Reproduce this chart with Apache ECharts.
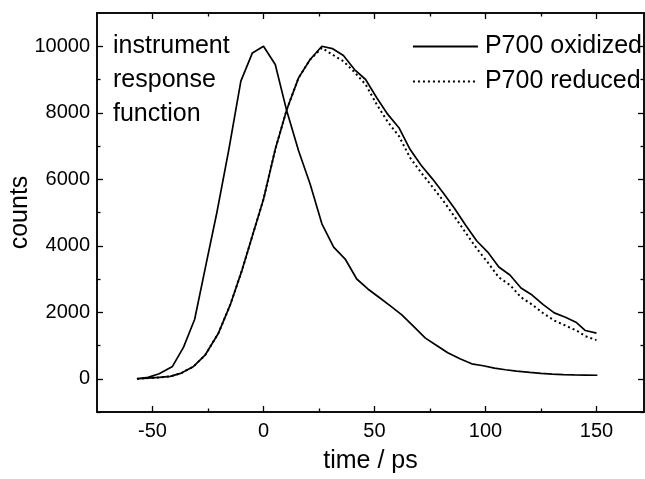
<!DOCTYPE html>
<html>
<head>
<meta charset="utf-8">
<script src="https://cdn.jsdelivr.net/npm/echarts@6/dist/echarts.min.js"></script>
<style>html,body{margin:0;padding:0;background:#fff}#c{width:645px;height:479px}</style>
</head>
<body>
<div id="c"></div>
<script>
// ---- data ----
var irfX = [-57, -52, -47, -41, -36, -31, -26, -21, -15.6, -10.2, -5, 0, 5.3, 10.5, 15.8, 21, 26.3, 31.6, 36.8, 42, 47, 52, 57, 62.3, 67.5, 72.8, 78, 83, 88.5, 93.8, 99, 104, 109, 114, 120, 125, 130, 135, 140, 145, 150.4];
var irfY = [0, 40, 150, 370, 950, 1790, 3400, 5000, 6900, 8950, 9800, 10000, 9450, 8050, 6860, 5860, 4660, 3960, 3600, 3000, 2700, 2450, 2200, 1920, 1580, 1230, 1000, 780, 600, 450, 390, 320, 270, 230, 190, 160, 140, 125, 115, 110, 105];
var p700X = [-57, -52, -47, -42, -37, -31.5, -26.2, -20.3, -15, -9.7, -5, 0, 5.3, 10.5, 15.8, 21, 26.3, 31, 36, 41, 46, 51, 56, 61, 66, 71, 76, 81, 86, 91, 96, 101, 106, 111, 116, 121, 126, 131, 136, 141, 145, 150];
var oxidizedY = [0, 20, 40, 70, 170, 370, 720, 1370, 2220, 3260, 4300, 5400, 6900, 8100, 9050, 9600, 10000, 9930, 9720, 9300, 9000, 8450, 7950, 7550, 6900, 6420, 6020, 5585, 5125, 4625, 4150, 3810, 3360, 3120, 2730, 2517, 2230, 1980, 1850, 1690, 1450, 1370];
var reducedY = [0, 20, 40, 70, 170, 370, 720, 1370, 2220, 3260, 4300, 5400, 6900, 8100, 9050, 9600, 9950, 9750, 9550, 9220, 8850, 8250, 7720, 7300, 6650, 6200, 5780, 5350, 4880, 4400, 3920, 3500, 3050, 2820, 2450, 2230, 1970, 1750, 1600, 1450, 1280, 1160];
var xMajorTicks = [-50, 0, 50, 100, 150];
var xMinorTicks = [-25, 25, 75, 125];
var yMajorTicks = [0, 2000, 4000, 6000, 8000, 10000];
var yMinorTicks = [-1000, 1000, 3000, 5000, 7000, 9000];
var seriesNames = ['P700 oxidized', 'P700 reduced'];
var annotationLines = ['instrument', 'response', 'function'];

function pairs(xs, ys) { return xs.map(function (x, i) { return [x, ys[i]]; }); }

var FONT = '"Liberation Sans", Arial, sans-serif';
var X_MIN = -75, X_MAX = 171.4, Y_MIN = -1000, Y_MAX = 11000;
function plain(v) { return String(v); }

function xAx(pos, ticks, len, showLabels, extra) {
  var a = {
    type: 'value', position: pos, min: X_MIN, max: X_MAX,
    axisLine: { show: true, onZero: false, lineStyle: { color: '#000', width: 1.5 } },
    axisTick: { show: true, inside: true, length: len, customValues: ticks, lineStyle: { color: '#000', width: 1.3 } },
    axisLabel: { show: showLabels, customValues: ticks, formatter: plain, color: '#000', fontSize: 20, fontFamily: FONT, margin: 9 },
    splitLine: { show: false }
  };
  for (var k in (extra || {})) a[k] = extra[k];
  return a;
}
function yAx(pos, ticks, len, showLabels, extra) {
  var a = {
    type: 'value', position: pos, min: Y_MIN, max: Y_MAX,
    axisLine: { show: true, onZero: false, lineStyle: { color: '#000', width: 1.5 } },
    axisTick: { show: true, inside: true, length: len, customValues: ticks, lineStyle: { color: '#000', width: 1.3 } },
    axisLabel: { show: showLabels, customValues: ticks, formatter: plain, color: '#000', fontSize: 20, fontFamily: FONT, margin: 7 },
    splitLine: { show: false }
  };
  for (var k in (extra || {})) a[k] = extra[k];
  return a;
}

var chart = echarts.init(document.getElementById('c'), null, { renderer: 'canvas' });
chart.setOption({
  animation: false,
  backgroundColor: '#fff',
  grid: { left: 97, right: 1, top: 13, bottom: 67, containLabel: false, outerBoundsMode: 'none' },
  xAxis: [
    xAx('bottom', xMajorTicks, 6, true, { name: 'time / ps', nameLocation: 'middle', nameGap: 37, nameMoveOverlap: false,
      nameTextStyle: { color: '#000', fontSize: 25, fontFamily: FONT } }),
    xAx('bottom', xMinorTicks, 3.5, false),
    xAx('top', xMajorTicks, 6, false),
    xAx('top', xMinorTicks, 3.5, false)
  ],
  yAxis: [
    yAx('left', yMajorTicks, 6, true, { name: 'counts', nameLocation: 'middle', nameGap: 64, nameRotate: 90, nameMoveOverlap: false,
      nameTextStyle: { color: '#000', fontSize: 25, fontFamily: FONT } }),
    yAx('left', yMinorTicks, 3.5, false),
    yAx('right', yMajorTicks, 6, false),
    yAx('right', yMinorTicks, 3.5, false)
  ],
  legend: {
    data: seriesNames, orient: 'vertical', right: 3, top: 34, padding: 0,
    itemWidth: 65, itemHeight: 12, itemGap: 10,
    itemStyle: { opacity: 0 },
    textStyle: { color: '#000', fontSize: 25, fontFamily: FONT, lineHeight: 25, padding: [0, 0, 0, 2] },
    selectedMode: false
  },
  series: [
    { name: 'instrument response function', type: 'line', data: pairs(irfX, irfY), symbol: 'none',
      lineStyle: { color: '#000', width: 1.7 }, z: 3 },
    { name: seriesNames[0], type: 'line', data: pairs(p700X, oxidizedY), symbol: 'none',
      lineStyle: { color: '#000', width: 1.7 }, itemStyle: { color: '#000' }, z: 4 },
    { name: seriesNames[1], type: 'line', data: pairs(p700X, reducedY), symbol: 'none',
      lineStyle: { color: '#000', width: 2, type: [2, 3] }, itemStyle: { color: '#000' }, z: 3 }
  ],
  graphic: [
    { type: 'text', left: 113, top: 29, style: { text: annotationLines.join('\n'), fill: '#000',
      font: '25px ' + FONT, lineHeight: 34 } }
  ]
});
</script>
</body>
</html>
